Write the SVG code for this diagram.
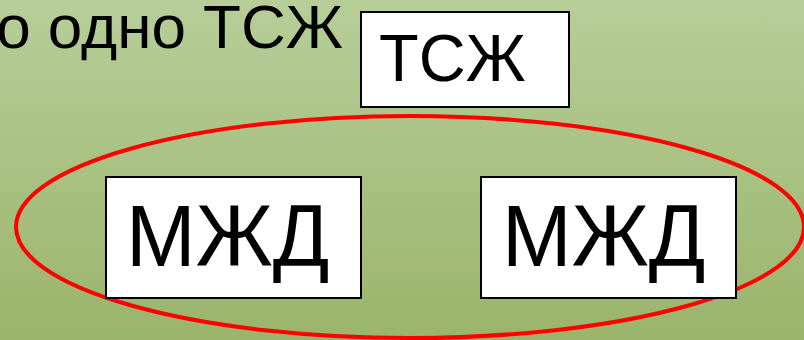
<svg xmlns="http://www.w3.org/2000/svg" width="804" height="340" viewBox="0 0 804 340">
  <defs>
    <linearGradient id="bg" x1="0" y1="0" x2="0" y2="1">
      <stop offset="0" stop-color="#b7ce99"/>
      <stop offset="1" stop-color="#9bb46b"/>
    </linearGradient>
  </defs>
  <style>
    .box { fill: #ffffff; stroke: #000000; stroke-width: 2; }
    .lbl { font-family: "Liberation Sans", Arial, sans-serif; fill: #000000; }
    .group { fill: none; stroke: #ff0000; stroke-width: 4; }
  </style>
  <rect width="804" height="340" fill="url(#bg)"/>
  <text class="lbl" x="343" y="48" font-size="62" text-anchor="end">о одно ТСЖ</text>
  <g id="connectors">
    <ellipse class="group" cx="410" cy="227" rx="394" ry="111"/>
  </g>
  <g id="node-tszh">
    <rect class="box" x="361" y="12" width="208" height="95"/>
    <text class="lbl" transform="translate(379 81) scale(0.97 1)" font-size="67">ТСЖ</text>
  </g>
  <g id="node-mzhd-1">
    <rect class="box" x="106" y="177" width="255" height="121"/>
    <text class="lbl" transform="translate(126 266) scale(0.95 1)" font-size="88">МЖД</text>
  </g>
  <g id="node-mzhd-2">
    <rect class="box" x="481" y="177" width="255" height="121"/>
    <text class="lbl" transform="translate(502 266) scale(0.95 1)" font-size="88">МЖД</text>
  </g>
</svg>
